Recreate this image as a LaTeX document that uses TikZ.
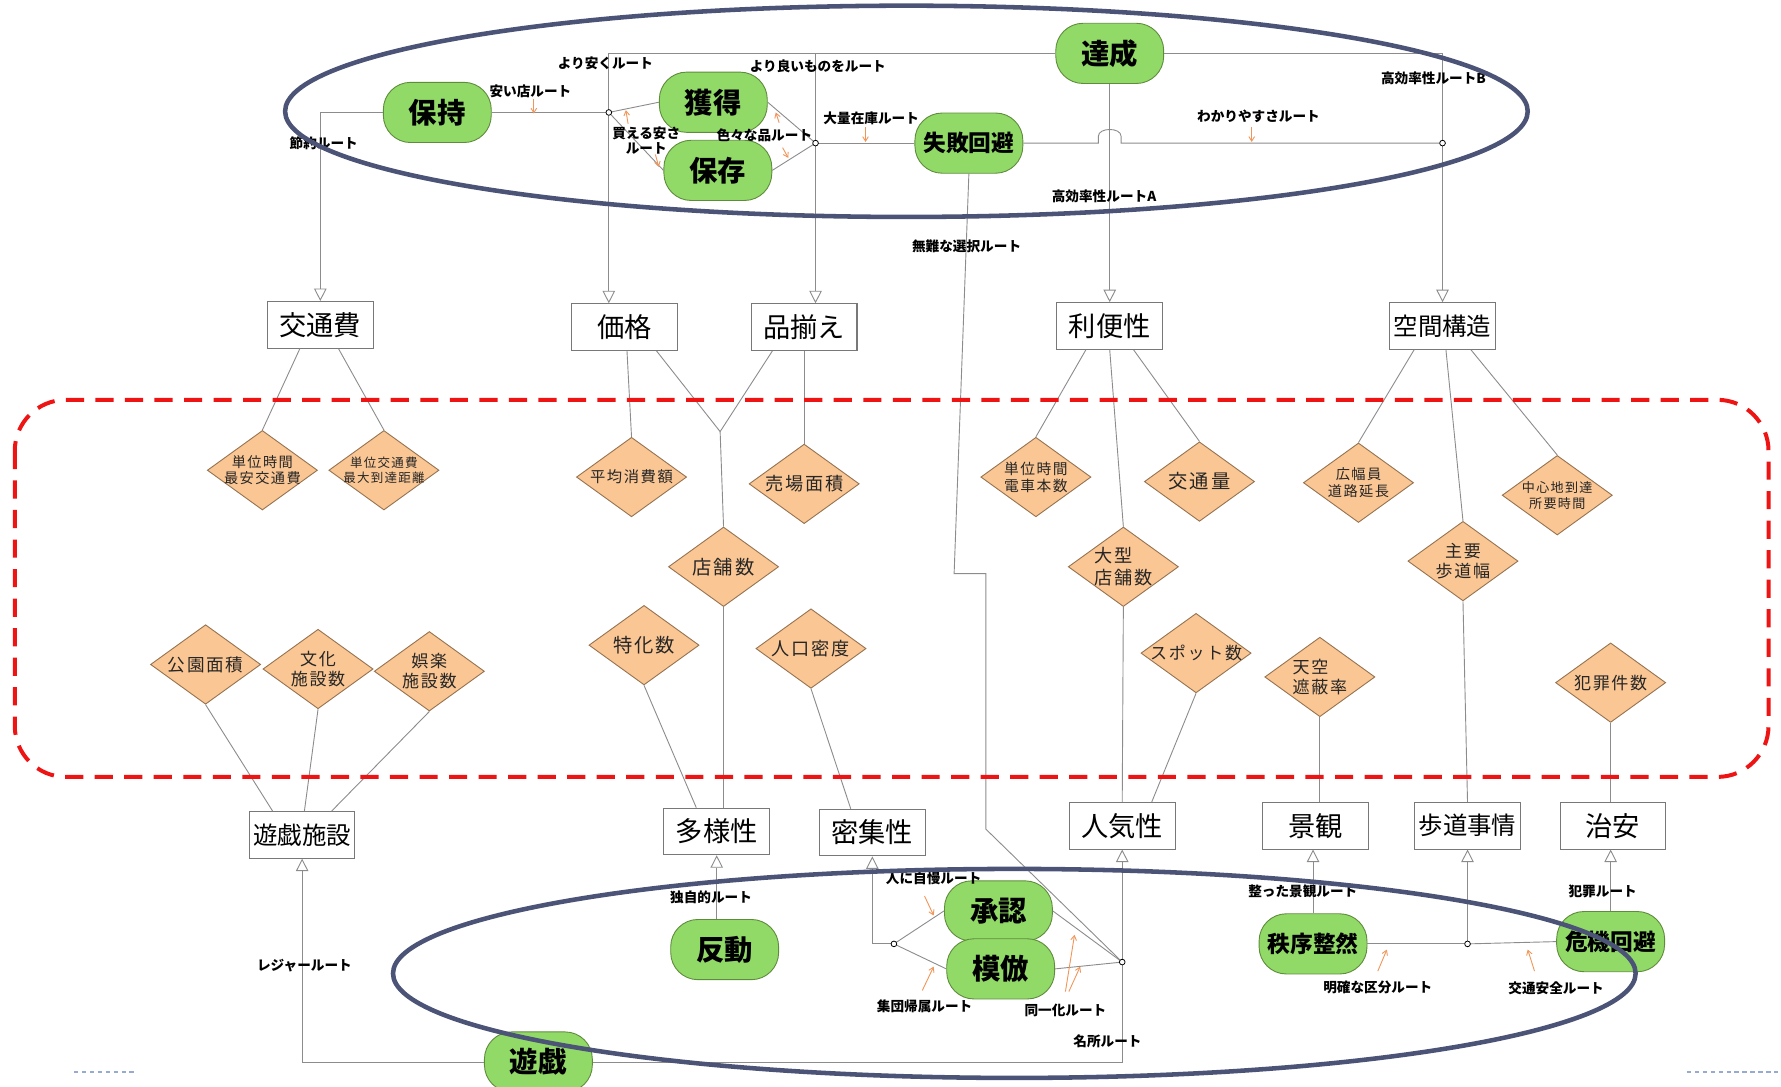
\documentclass[tikz,border=0pt]{standalone}
\usepackage{fontspec}
\setmainfont{Noto Sans CJK JP}
\newfontfamily\dfont{Noto Sans CJK JP}[LetterSpace=10]
\usetikzlibrary{shapes.geometric,arrows.meta,calc}
\definecolor{greenfill}{RGB}{146,218,104}
\definecolor{greenline}{RGB}{95,140,60}
\definecolor{dfill}{RGB}{250,198,148}
\definecolor{dline}{RGB}{150,115,80}
\definecolor{ellcol}{RGB}{75,83,118}
\definecolor{lncol}{RGB}{140,140,140}
\definecolor{rectcol}{RGB}{120,120,120}
\definecolor{redc}{RGB}{238,20,20}
\definecolor{orangec}{RGB}{240,150,90}
\definecolor{bluedash}{RGB}{150,170,210}
\begin{document}
\begin{tikzpicture}[x=1pt,y=-1pt,
 rectbox/.style={draw=rectcol,fill=white,line width=0.9pt,minimum width=93pt,minimum height=41pt,inner sep=0pt,font=\fontsize{24}{26}\selectfont},
 rectfour/.style={rectbox,font=\fontsize{21.5}{24}\selectfont},
 greenbox/.style={draw=greenline,fill=greenfill,line width=0.8pt,rounded corners=24pt,minimum width=95pt,minimum height=53pt,inner sep=0pt,font=\bfseries\fontsize{25}{27}\selectfont},
 greenfour/.style={greenbox,font=\bfseries\fontsize{20}{22}\selectfont},
 dia/.style={diamond,draw=dline,fill=dfill,line width=0.8pt,minimum width=97pt,minimum height=70pt,inner sep=0pt},
 dt/.style={align=center,text=black!85,inner sep=0pt},
 conn/.style={draw=lncol,line width=0.8pt},
 arr/.style={conn,-{Triangle[length=11pt,width=11pt,fill=white]}},
 junc/.style={circle,draw=black,fill=white,line width=0.7pt,inner sep=0pt,minimum size=5pt},
 route/.style={font=\bfseries\fontsize{12}{13.5}\selectfont,align=center,inner sep=0pt},
 oarr/.style={draw=orangec,line width=0.8pt,-{Straight Barb[length=4pt,width=5pt]}},
]
\path[use as bounding box] (0,0) rectangle (1568,957);

% ---------- rectangles ----------
\node[rectbox] (kotsuhi) at (282,286) {交通費};
\node[rectbox] (kakaku) at (550,288) {価格};
\node[rectbox] (shina) at (708,288) {品揃え};
\node[rectbox] (riben) at (977,287) {利便性};
\node[rectfour] (kukan) at (1270,287) {空間構造};
\node[rectfour] (yugishisetsu) at (266,735) {遊戯施設};
\node[rectbox] (tayo) at (631,732) {多様性};
\node[rectbox] (misshu) at (768,733) {密集性};
\node[rectbox] (ninki) at (988,727) {人気性};
\node[rectbox] (keikan) at (1158,727) {景観};
\node[rectfour] (hodo) at (1292,727) {歩道事情};
\node[rectbox] (chian) at (1420,727) {治安};

% ---------- green nodes ----------
\node[greenbox] (hoji) at (385,99) {保持};
\node[greenbox] (kakutoku) at (628,90) {獲得};
\node[greenbox] (hozon) at (632,150) {保存};
\node[greenbox] (tassei) at (977,47) {達成};
\node[greenfour] (shippai) at (853,126) {失敗回避};
\node[greenbox] (hando) at (638,836) {反動};
\node[greenbox] (shonin) at (879,802) {承認};
\node[greenbox] (mohou) at (881,853) {模倣};
\node[greenbox] (yugi) at (474,935) {遊戯};
\node[greenfour] (chitsujo) at (1156,831) {秩序整然};
\node[greenfour] (kiki) at (1418,829) {危機回避};

% ---------- diamonds ----------
\node[dia,label={[dt,font=\dfont\fontsize{12.5}{14.5}\selectfont]center:単位時間\\最安交通費}] (d1) at (231,414) {};
\node[dia,label={[dt,font=\dfont\fontsize{11}{13.5}\selectfont]center:単位交通費\\最大到達距離}] (d2) at (338,414) {};
\node[dia,label={[dt,font=\dfont\fontsize{13.5}{15}\selectfont]center:平均消費額}] (d3) at (556,420) {};
\node[dia,label={[dt,font=\dfont\fontsize{16}{18}\selectfont]center:売場面積}] (d4) at (708,426) {};
\node[dia,label={[dt,font=\dfont\fontsize{17}{19}\selectfont]center:店舗数}] (d5) at (637,499) {};
\node[dia,label={[dt,font=\dfont\fontsize{13}{15}\selectfont]center:単位時間\\電車本数}] (d6) at (912,420) {};
\node[dia,label={[dt,font=\dfont\fontsize{17}{19}\selectfont]center:交通量}] (d7) at (1056,424) {};
\node[dia,label={[dt,align=left,font=\dfont\fontsize{16}{19}\selectfont]center:大型\\店舗数}] (d8) at (989,499) {};
\node[dia,label={[dt,font=\dfont\fontsize{12.5}{15}\selectfont]center:広幅員\\道路延長}] (d9) at (1196,425) {};
\node[dia,label={[dt,font=\dfont\fontsize{15}{18}\selectfont]center:主要\\歩道幅}] (d10) at (1288,494) {};
\node[dia,label={[dt,font=\dfont\fontsize{11.5}{14}\selectfont]center:中心地到達\\所要時間}] (d11) at (1371,436) {};
\node[dia,label={[dt,font=\dfont\fontsize{15.5}{18}\selectfont]center:公園面積}] (d12) at (181,585) {};
\node[dia,label={[dt,font=\dfont\fontsize{15}{18}\selectfont]center:文化\\施設数}] (d13) at (280,589) {};
\node[dia,label={[dt,font=\dfont\fontsize{15}{18}\selectfont]center:娯楽\\施設数}] (d14) at (378,591) {};
\node[dia,label={[dt,font=\dfont\fontsize{17}{19}\selectfont]center:特化数}] (d15) at (567,568) {};
\node[dia,label={[dt,font=\dfont\fontsize{16}{18}\selectfont]center:人口密度}] (d16) at (714,571) {};
\node[dia,label={[dt,font=\dfont\fontsize{15}{18}\selectfont]center:スポット数}] (d17) at (1053,575) {};
\node[dia,label={[dt,align=left,font=\dfont\fontsize{15}{18}\selectfont]center:天空\\遮蔽率}] (d18) at (1162,596) {};
\node[dia,label={[dt,font=\dfont\fontsize{15}{18}\selectfont]center:犯罪件数}] (d19) at (1418,601) {};

% ---------- junction coordinates ----------
\coordinate (j1) at (536,99);
\coordinate (j2) at (718,126);
\coordinate (j3) at (1270,126);
\coordinate (j4) at (787,831);
\coordinate (j5) at (988,847);
\coordinate (j6) at (1292,831);
\coordinate (fork) at (634,380);

% ---------- top connectors ----------
\draw[arr] (hoji.west) -| (kotsuhi.north);
\draw[conn] (hoji.east) -- (j1);
\draw[arr] (tassei.west) -- (tassei.west -| j1) -- (j1 |- kakaku.north);
\draw[arr] (tassei.west -| j2) -- (j2 |- shina.north);
\draw[conn] (j1) -- (kakutoku.west);
\draw[conn] (j1) -- (hozon.west);
\draw[conn] (kakutoku.east) -- (j2);
\draw[conn] (hozon.east) -- (j2);
\draw[conn] (j2) -- (shippai.west);
\draw[conn] (shippai.east) -- (967,126) -- (967,120) .. controls (967,112) and (987,112) .. (987,120) -- (987,126) -- (j3);
\draw[arr] (tassei.east) -- (tassei.east -| j3) -- (j3 |- kukan.north);
\draw[arr] (tassei.south) -- (riben.north);
\draw[conn] (shippai.south) -- (840,505) -- (868,505) -- (868,730) -- (j5);

% ---------- rect to diamond lines ----------
\draw[conn] ($(kotsuhi.south)+(-18,0)$) -- (d1.north);
\draw[conn] ($(kotsuhi.south)+(16,0)$) -- (d2.north);
\draw[conn] ($(kakaku.south)+(2,0)$) -- (d3.north);
\draw[conn] ($(kakaku.south)+(28,0)$) -- (fork);
\draw[conn] ($(shina.south)+(-28,0)$) -- (fork);
\draw[conn] (fork) -- (d5.north);
\draw[conn] (shina.south) -- (d4.north);
\draw[conn] ($(riben.south)+(-21,0)$) -- (d6.north);
\draw[conn] (riben.south) -- (d8.north);
\draw[conn] ($(riben.south)+(21,0)$) -- (d7.north);
\draw[conn] ($(kukan.south)+(-25,0)$) -- (d9.north);
\draw[conn] ($(kukan.south)+(3,0)$) -- (d10.north);
\draw[conn] ($(kukan.south)+(25,0)$) -- (d11.north);
\draw[conn] (d12.south) -- ($(yugishisetsu.north)+(-26,0)$);
\draw[conn] (d13.south) -- ($(yugishisetsu.north)+(2,0)$);
\draw[conn] (d14.south) -- ($(yugishisetsu.north)+(26,0)$);
\draw[conn] (d15.south) -- ($(tayo.north)+(-18,0)$);
\draw[conn] (d5.south) -- ($(tayo.north)+(6,0)$);
\draw[conn] (d16.south) -- ($(misshu.north)+(-19,0)$);
\draw[conn] (d8.south) -- (ninki.north);
\draw[conn] (d17.south) -- ($(ninki.north)+(26,0)$);
\draw[conn] (d18.south) -- (d18.south |- keikan.north);
\draw[conn] (d10.south) -- (hodo.north);
\draw[conn] (d19.south) -- (d19.south |- chian.north);

% ---------- bottom connectors ----------
\draw[arr] (hando.north -| tayo.south) -- (tayo.south);
\draw[arr] (j4) -| (misshu.south);
\draw[conn] (j4) -- (shonin.west);
\draw[conn] (j4) -- (mohou.west);
\draw[conn] (shonin.east) -- (j5);
\draw[conn] (mohou.east) -- (j5);
\draw[arr] (j5) -- (ninki.south);
\draw[conn] (yugi.east) -| (j5);
\draw[arr] (yugi.west) -| (yugishisetsu.south);
\draw[arr] (chitsujo.north) -- (chitsujo.north |- keikan.south);
\draw[conn] (chitsujo.east) -- (j6);
\draw[conn] (j6) -- (kiki.west);
\draw[arr] (j6) -- (hodo.south);
\draw[arr] (kiki.north) -- (kiki.north |- chian.south);

% ---------- junction circles ----------
\node[junc] (c1) at (j1) {};
\node[junc] (c2) at (j2) {};
\node[junc] (c3) at (j3) {};
\node[junc] (c4) at (j4) {};
\node[junc] (c5) at (j5) {};
\node[junc] (c6) at (j6) {};

% ---------- orange arrows ----------
\draw[oarr] (470,87) -- (470,100);
\draw[oarr] (553,109) -- (551,97);
\draw[oarr] (577,136) -- (580,147);
\draw[oarr] (686,108) -- (683,99);
\draw[oarr] (689,130) -- (694,139);
\draw[oarr] (762,112) -- (762,125);
\draw[oarr] (1102,112) -- (1102,125);
\draw[oarr] (814,789) -- (822,806);
\draw[oarr] (812,872) -- (822,851);
\draw[oarr] (938,873) -- (946,823);
\draw[oarr] (941,873) -- (951,851);
\draw[oarr] (1213,855) -- (1221,836);
\draw[oarr] (1351,855) -- (1345,836);

% ---------- route labels ----------
\node[route] (r1) at (285,126) {節約ルート};
\node[route] (r2) at (467,80) {安い店ルート};
\node[route] (r3) at (533,56) {より安くルート};
\node[route] (r4) at (720,58) {より良いものをルート};
\node[route] (r5) at (569,124) {買える安さ\\ルート};
\node[route] (r6) at (673,119) {色々な品ルート};
\node[route] (r7) at (767,104) {大量在庫ルート};
\node[route] (r8) at (1108,102) {わかりやすさルート};
\node[route] (r9) at (1262,69) {高効率性ルートB};
\node[route] (r10) at (972,173) {高効率性ルートA};
\node[route] (r11) at (851,217) {無難な選択ルート};
\node[route] (r12) at (626,790) {独自的ルート};
\node[route] (r13) at (822,773) {人に自慢ルート};
\node[route] (r14) at (814,886) {集団帰属ルート};
\node[route] (r15) at (938,890) {同一化ルート};
\node[route] (r16) at (975,917) {名所ルート};
\node[route] (r17) at (268,850) {レジャールート};
\node[route] (r18) at (1147,785) {整った景観ルート};
\node[route] (r19) at (1213,869) {明確な区分ルート};
\node[route] (r20) at (1370,870) {交通安全ルート};
\node[route] (r21) at (1411,785) {犯罪ルート};

% ---------- red dashed region ----------
\draw[redc,line width=3.5pt,dash pattern=on 16pt off 10pt,rounded corners=45pt] (13,352) rectangle (1557,684);

% ---------- ellipses ----------
\node[ellipse,draw=ellcol,line width=4pt,minimum width=1094pt,minimum height=186pt,inner sep=0pt] (topell) at (798,98) {};
\node[ellipse,draw=ellcol,line width=4pt,minimum width=1094pt,minimum height=184pt,inner sep=0pt] (botell) at (893,857) {};

% ---------- slide marks ----------
\draw[bluedash,line width=2pt,dash pattern=on 4pt off 3pt] (65,944) -- (120,944);
\draw[bluedash,line width=2pt,dash pattern=on 4pt off 3pt] (1485,944) -- (1565,944);
\end{tikzpicture}
\end{document}
